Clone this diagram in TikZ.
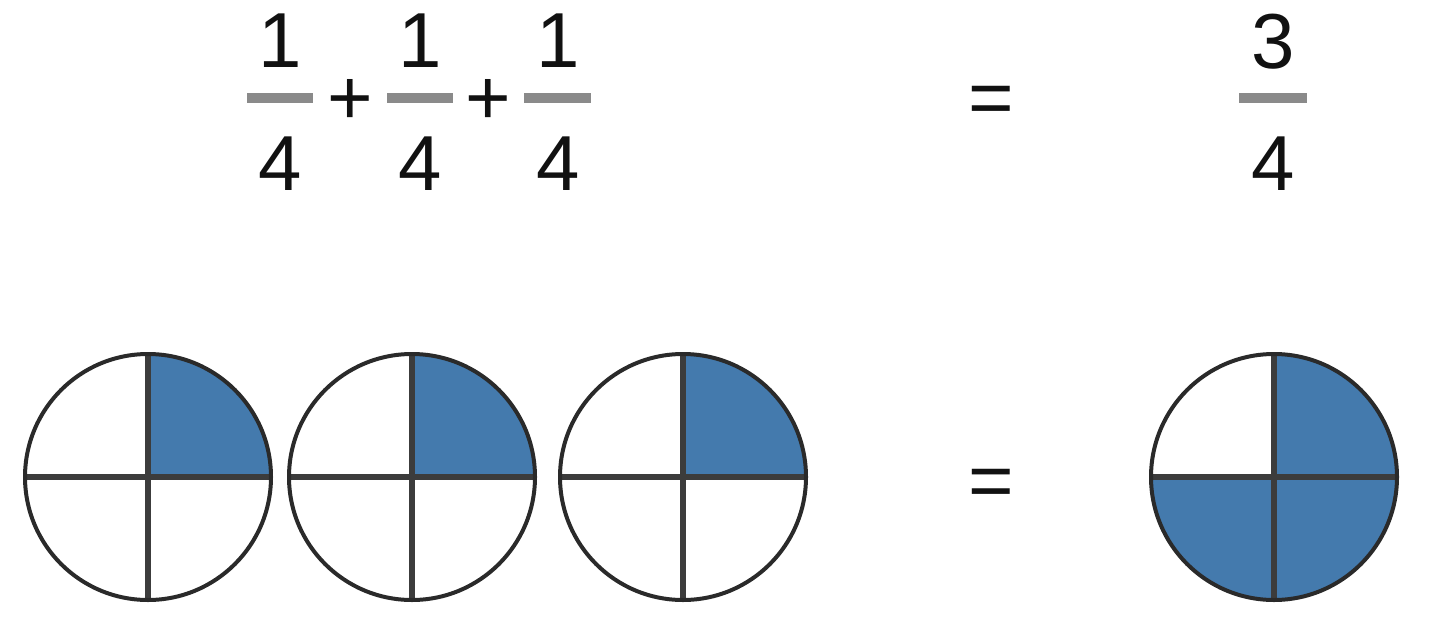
\documentclass[tikz,border=0pt]{standalone}
\usepackage{fontspec}
\setmainfont{Liberation Sans}
\definecolor{pieblue}{HTML}{447AAD}
\definecolor{edge}{HTML}{2A2A2A}
\definecolor{divider}{HTML}{3C3C3C}
\definecolor{barcol}{HTML}{8A8A8A}
\definecolor{txt}{HTML}{111111}
\begin{document}
\begin{tikzpicture}[x=1pt,y=-1pt,
  digit/.style={inner sep=0pt,anchor=base,text=txt,font=\fontsize{78}{90}\selectfont},
  fracbar/.style={draw=barcol,line width=10pt},
  rim/.style={draw=edge,line width=4pt},
  cross/.style={draw=divider,line width=5.5pt}]
\useasboundingbox (0,0) rectangle (1440,621);
% fractions
\node[digit] (n1) at (280,67) {1};
\node[digit] (d1) at (280,190) {4};
\node[digit] (n2) at (420,67) {1};
\node[digit] (d2) at (420,190) {4};
\node[digit] (n3) at (558,67) {1};
\node[digit] (d3) at (558,190) {4};
\node[digit] (n4) at (1273,68) {3};
\node[digit] (d4) at (1273,190) {4};
\draw[fracbar] (247,98) -- (313,98);
\draw[fracbar] (387,98) -- (453,98);
\draw[fracbar] (524,98) -- (591,98);
\draw[fracbar] (1239,98) -- (1307,98);
\node[digit] (p1) at (350,124) {+};
\node[digit] (p2) at (488,124) {+};
\node[digit] (eq1) at (991,124) {=};
\node[digit] (eq2) at (991,507) {=};
% pies
\foreach \cx/\name in {148/c1,412/c2,683/c3}{
  \fill[pieblue] (\cx,477) -- (\cx+123,477) arc[start angle=0,end angle=-90,radius=123] -- cycle;
  \draw[cross] (\cx-123,477) -- (\cx+123,477);
  \draw[cross] (\cx,354) -- (\cx,600);
  \draw[rim] (\cx,477) circle[radius=123];
}
\fill[pieblue] (1274,477) -- (1274,354) arc[start angle=-90,end angle=180,radius=123] -- cycle;
\draw[cross] (1151,477) -- (1397,477);
\draw[cross] (1274,354) -- (1274,600);
\draw[rim] (1274,477) circle[radius=123];
\end{tikzpicture}
\end{document}
